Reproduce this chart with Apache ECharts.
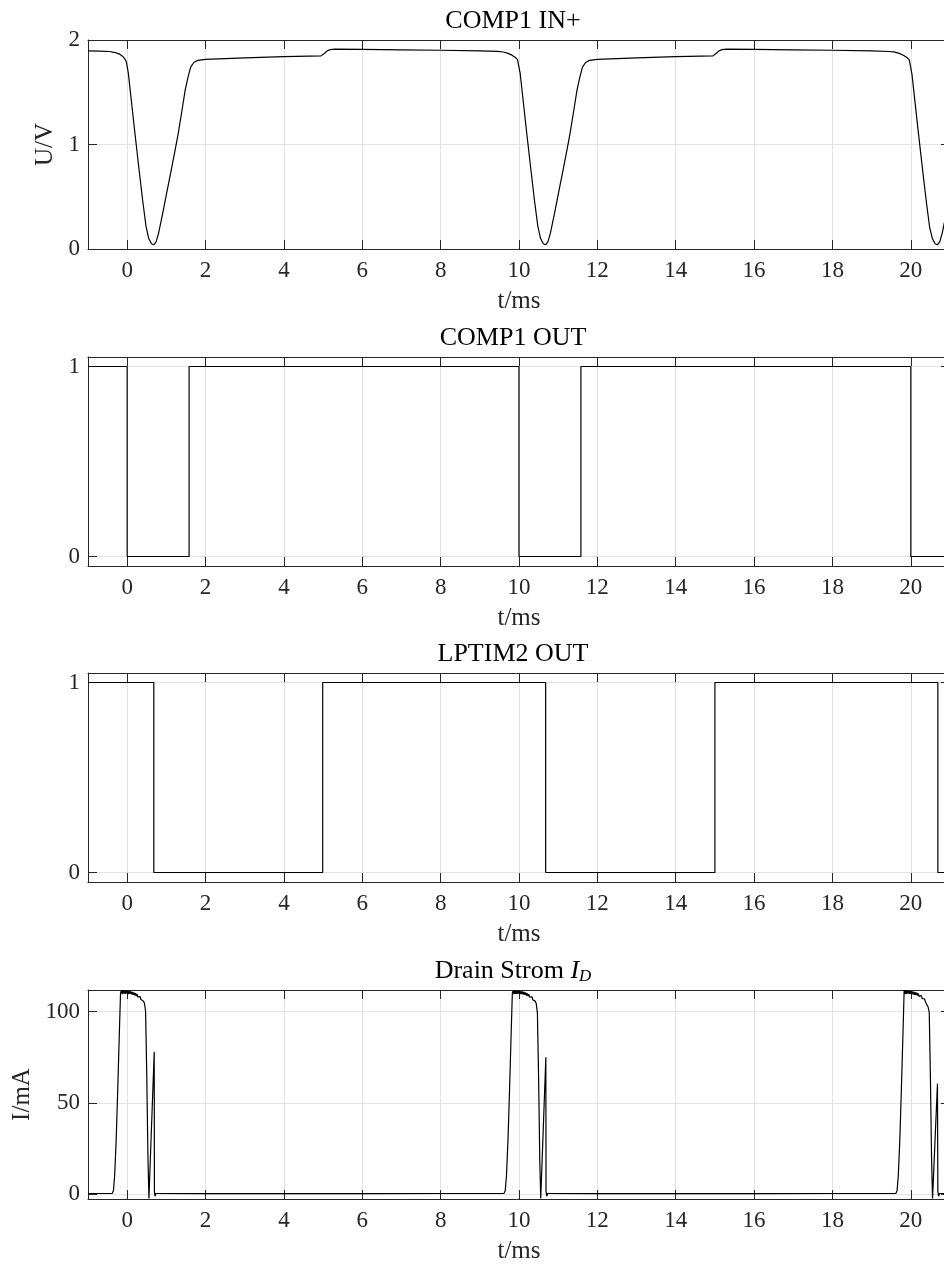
<!DOCTYPE html>
<html>
<head>
<meta charset="utf-8">
<script src="https://cdn.jsdelivr.net/npm/echarts@6/dist/echarts.min.js"></script>
<style>
  html, body { margin: 0; padding: 0; background: #ffffff; }
  #chart { width: 944px; height: 1269px; }
</style>
</head>
<body>
<div id="chart"></div>
<script>
// ---- shared axis ticks ----
const timeTicks = [0, 2, 4, 6, 8, 10, 12, 14, 16, 18, 20];
const voltTicks = [0, 1, 2];
const logicTicks = [0, 1];
const currentTicks = [0, 50, 100];

// ---- COMP1 IN+ (comparator input voltage, V) ----
const inTime = [
  -1.0, -0.7, -0.45, -0.3, -0.2, -0.12, -0.06, -0.02, 0.03, 0.1, 0.2, 0.3, 0.4, 0.48, 0.55, 0.62, 0.68, 0.74, 0.8, 0.9,
  1.0, 1.1, 1.2, 1.3, 1.4, 1.48, 1.55, 1.62, 1.7, 1.8, 2.0, 3.0, 4.0, 4.95, 5.03, 5.1, 5.18, 5.3, 6.0, 7.0,
  8.0, 9.0, 9.45, 9.6, 9.72, 9.82, 9.9, 9.96,
  10.03, 10.1, 10.2, 10.3, 10.4, 10.48, 10.55, 10.62, 10.68, 10.74, 10.8, 10.9,
  11.0, 11.1, 11.2, 11.3, 11.4, 11.48, 11.55, 11.62, 11.7, 11.8, 12.0, 13.0, 14.0, 14.95, 15.03, 15.1, 15.18, 15.3, 16.0, 17.0,
  18.0, 19.0, 19.45, 19.6, 19.72, 19.82, 19.9, 19.96,
  20.03, 20.1, 20.2, 20.3, 20.4, 20.48, 20.55, 20.62, 20.68, 20.74, 20.8, 20.9, 21.0
];
const inVolt = [
  1.895, 1.894, 1.89, 1.88, 1.865, 1.845, 1.82, 1.79, 1.68, 1.44, 1.10, 0.77, 0.45, 0.22, 0.10, 0.05, 0.04, 0.07, 0.15, 0.33,
  0.52, 0.71, 0.90, 1.10, 1.33, 1.52, 1.64, 1.74, 1.785, 1.805, 1.815, 1.828, 1.84, 1.848, 1.87, 1.895, 1.908, 1.912, 1.91, 1.906,
  1.902, 1.896, 1.892, 1.885, 1.872, 1.855, 1.835, 1.815,
  1.68, 1.44, 1.10, 0.77, 0.45, 0.22, 0.10, 0.05, 0.04, 0.07, 0.15, 0.33,
  0.52, 0.71, 0.90, 1.10, 1.33, 1.52, 1.64, 1.74, 1.785, 1.805, 1.815, 1.828, 1.84, 1.848, 1.87, 1.895, 1.908, 1.912, 1.91, 1.906,
  1.902, 1.896, 1.89, 1.884, 1.87, 1.852, 1.832, 1.81,
  1.67, 1.43, 1.09, 0.76, 0.44, 0.21, 0.10, 0.05, 0.04, 0.07, 0.15, 0.33, 0.52
];

// ---- COMP1 OUT (logic level, changes at listed times) ----
const outTime = [-1, 0, 1.58, 10, 11.58, 20, 21];
const outLevel = [1, 0, 1, 0, 1, 0, 0];

// ---- LPTIM2 OUT (logic level, changes at listed times) ----
const lpTime = [-1, 0.68, 4.99, 10.68, 15.0, 20.69, 21];
const lpLevel = [1, 0, 1, 0, 1, 0, 0];

// ---- Drain current I_D (mA) ----
const drainTime = [
  -1.0, -0.6, -0.38, -0.35, -0.32, -0.28, -0.24, -0.2, -0.17, -0.15, -0.13, -0.11, -0.09, -0.07, -0.05, -0.03, -0.01,
  0.01, 0.03, 0.05, 0.07, 0.09, 0.11, 0.13, 0.15, 0.17, 0.19, 0.21, 0.23, 0.25, 0.27, 0.29, 0.31, 0.33, 0.35, 0.37, 0.39, 0.41,
  0.44, 0.47, 0.5, 0.53, 0.555, 0.57, 0.69, 0.695, 0.71, 0.73, 0.8, 2.0, 4.0, 6.0, 8.0, 9.4,
  9.62, 9.65, 9.68, 9.72, 9.76, 9.8, 9.83, 9.85, 9.87, 9.89, 9.91, 9.93, 9.95, 9.97, 9.99,
  10.01, 10.03, 10.05, 10.07, 10.09, 10.11, 10.13, 10.15, 10.17, 10.19, 10.21, 10.23, 10.25, 10.27, 10.29, 10.31, 10.33, 10.35, 10.37, 10.39, 10.41,
  10.44, 10.47, 10.5, 10.53, 10.555, 10.57, 10.685, 10.69, 10.71, 10.73, 10.8, 12.0, 14.0, 16.0, 18.0, 19.4,
  19.62, 19.65, 19.68, 19.72, 19.76, 19.8, 19.83, 19.85, 19.87, 19.89, 19.91, 19.93, 19.95, 19.97, 19.99,
  20.01, 20.03, 20.05, 20.07, 20.09, 20.11, 20.13, 20.15, 20.17, 20.19, 20.21, 20.23, 20.25, 20.27, 20.29, 20.31, 20.33, 20.35, 20.37, 20.39, 20.41,
  20.44, 20.47, 20.5, 20.53, 20.555, 20.57, 20.68, 20.69, 20.71, 20.73, 20.8, 21.0
];
const drainCurrent = [
  0.3, 0.3, 0.4, 2, 10, 30, 58, 88, 110, 111.6, 109.6, 111.7, 109.8, 111.6, 109.7, 111.5, 109.9,
  111.4, 109.6, 111.3, 109.7, 111.1, 109.4, 110.8, 109.2, 110.5, 108.9, 110.1, 108.5, 109.6, 108.0, 109.0, 107.3, 108.2, 106.6, 107.3, 105.8, 105.8,
  104.6, 100, 65, 20, -2.4, -2.0, 78, 1.5, -1.2, 0.3, 0.3, 0.2, 0.3, 0.2, 0.3, 0.3,
  0.4, 2, 10, 30, 58, 88, 110, 111.5, 109.5, 111.6, 109.7, 111.5, 109.6, 111.4, 109.8,
  111.3, 109.5, 111.2, 109.6, 111.0, 109.3, 110.7, 109.1, 110.4, 108.8, 110.0, 108.4, 109.5, 107.9, 108.9, 107.2, 108.1, 106.5, 107.2, 105.6, 105.7,
  104.4, 99, 64, 19, -2.4, -2.0, 75, 1.5, -1.2, 0.3, 0.3, 0.2, 0.3, 0.2, 0.3, 0.3,
  0.4, 2, 10, 30, 58, 88, 111.7, 109.7, 111.6, 109.6, 111.5, 109.8, 111.4, 109.5, 111.2,
  109.7, 111.1, 109.4, 110.9, 109.2, 110.6, 109.0, 110.3, 108.7, 109.9, 108.3, 109.3, 107.7, 108.7, 107.0, 107.9, 106.3, 107.0, 105.4, 105.4, 104.6,
  102.5, 99.5, 64, 19, -2.4, -2.0, 60.5, 1.5, -1.2, 0.3, 0.3, 0.3
];

// ---- styling ----
const FONT = 'Liberation Serif';
const INK = '#262626';
const GRIDLINE = '#e2e2e2';
const PLOT_LEFT = 88;
const PLOT_WIDTH = 862;
const PLOT_HEIGHT = 209;

function zip(xs, ys) { return xs.map((x, i) => [x, ys[i]]); }

const panels = [
  { top: 40,  title: 'COMP1 IN+', yMin: 0, yMax: 2, yTicks: voltTicks, yName: 'U/V', yNameGap: 24,
    data: zip(inTime, inVolt), step: false },
  { top: 357, title: 'COMP1 OUT', yMin: -0.05, yMax: 1.05, yTicks: logicTicks, yName: '', yNameGap: 0,
    data: zip(outTime, outLevel), step: 'end' },
  { top: 673, title: 'LPTIM2 OUT', yMin: -0.05, yMax: 1.05, yTicks: logicTicks, yName: '', yNameGap: 0,
    data: zip(lpTime, lpLevel), step: 'end' },
  { top: 990, title: 'Drain Strom {i|I}{sub|D}', yMin: -2.7, yMax: 111.8, yTicks: currentTicks, yName: 'I/mA', yNameGap: 49,
    data: zip(drainTime, drainCurrent), step: false }
];

const labelText = { fontFamily: FONT, fontSize: 23, color: INK };
const nameText = { fontFamily: FONT, fontSize: 25, color: INK };

const grid = [], xAxis = [], yAxis = [], series = [], title = [];

panels.forEach((p, i) => {
  grid.push({ left: PLOT_LEFT, top: p.top, width: PLOT_WIDTH, height: PLOT_HEIGHT,
              outerBoundsMode: 'none', containLabel: false });

  // bottom time axis with labels and grid lines
  xAxis.push({
    type: 'value', gridIndex: i, position: 'bottom', min: -1, max: 21,
    axisLine: { show: true, onZero: false, lineStyle: { color: INK, width: 1 } },
    axisTick: { show: true, inside: true, length: 9, customValues: timeTicks, lineStyle: { color: INK, width: 1 } },
    axisLabel: { show: true, customValues: timeTicks, margin: 10, ...labelText },
    splitLine: { show: true, lineStyle: { color: GRIDLINE, width: 1 } },
    name: 't/ms', nameLocation: 'middle', nameGap: 40, nameTextStyle: nameText
  });
  // top frame edge with inward ticks
  xAxis.push({
    type: 'value', gridIndex: i, position: 'top', min: -1, max: 21,
    axisLine: { show: true, onZero: false, lineStyle: { color: INK, width: 1 } },
    axisTick: { show: true, inside: true, length: 9, customValues: timeTicks, lineStyle: { color: INK, width: 1 } },
    axisLabel: { show: false },
    splitLine: { show: false }
  });

  // left value axis
  yAxis.push({
    type: 'value', gridIndex: i, position: 'left', min: p.yMin, max: p.yMax,
    axisLine: { show: true, onZero: false, lineStyle: { color: INK, width: 1 } },
    axisTick: { show: true, inside: true, length: 9, customValues: p.yTicks, lineStyle: { color: INK, width: 1 } },
    axisLabel: { show: true, customValues: p.yTicks, margin: 8, ...labelText },
    splitLine: { show: true, lineStyle: { color: GRIDLINE, width: 1 } },
    name: p.yName, nameLocation: 'middle', nameGap: p.yNameGap, nameRotate: 90, nameTextStyle: nameText
  });
  // right frame edge with inward ticks
  yAxis.push({
    type: 'value', gridIndex: i, position: 'right', min: p.yMin, max: p.yMax,
    axisLine: { show: true, onZero: false, lineStyle: { color: INK, width: 1 } },
    axisTick: { show: true, inside: true, length: 9, customValues: p.yTicks, lineStyle: { color: INK, width: 1 } },
    axisLabel: { show: false },
    splitLine: { show: false }
  });

  series.push({
    type: 'line', xAxisIndex: 2 * i, yAxisIndex: 2 * i,
    data: p.data, step: p.step, showSymbol: false, symbol: 'none',
    lineStyle: { color: '#000000', width: 1.2 }, z: 3
  });

  title.push({
    text: p.title, left: PLOT_LEFT + PLOT_WIDTH / 2 - 6, top: p.top - 33, textAlign: 'center', padding: 0,
    textStyle: {
      fontFamily: FONT, fontSize: 26, fontWeight: 'normal', color: '#000000', lineHeight: 28,
      rich: {
        i: { fontFamily: FONT, fontSize: 26, fontStyle: 'italic', color: '#000000', lineHeight: 28 },
        sub: { fontFamily: FONT, fontSize: 17, fontStyle: 'italic', color: '#000000', lineHeight: 9, verticalAlign: 'bottom' }
      }
    }
  });
});

const chart = echarts.init(document.getElementById('chart'), null, { renderer: 'canvas' });
chart.setOption({
  animation: false,
  backgroundColor: '#ffffff',
  title, grid, xAxis, yAxis, series
});
</script>
</body>
</html>
